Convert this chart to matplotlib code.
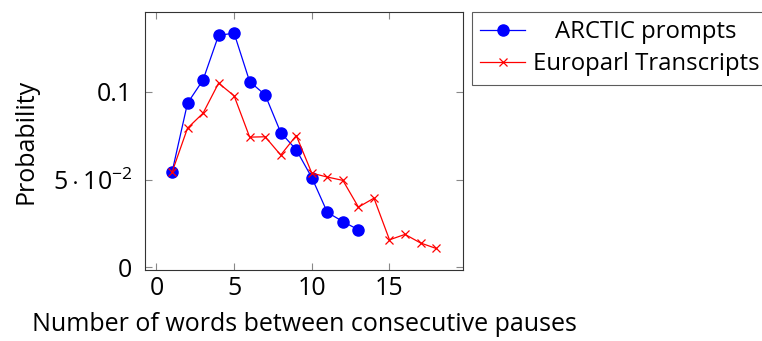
import matplotlib
matplotlib.use('Agg')
import matplotlib.pyplot as plt
from matplotlib.ticker import FixedLocator, FixedFormatter

plt.rcParams['font.family'] = ['Open Sans', 'DejaVu Sans']
plt.rcParams['mathtext.fontset'] = 'custom'
plt.rcParams['mathtext.rm'] = 'Open Sans'
plt.rcParams['mathtext.it'] = 'Open Sans:italic'

# data
arctic_x = [1, 2, 3, 4, 5, 6, 7, 8, 9, 10, 11, 12, 13]
arctic_y = [0.054, 0.0934, 0.1066, 0.132, 0.1332, 0.1057, 0.0981,
            0.0767, 0.0669, 0.0511, 0.0313, 0.0261, 0.0214]
europarl_x = list(range(1, 19))
europarl_y = [0.054, 0.0792, 0.0877, 0.1048, 0.0976, 0.0741, 0.0743, 0.0639,
              0.075, 0.0536, 0.0514, 0.0495, 0.0343, 0.0394, 0.0157, 0.0188,
              0.0139, 0.0108]
xticks = [0, 5, 10, 15]
yticks = [0, 0.05, 0.1]
ytick_labels = ['0', r'$5\cdot10^{-2}$', '0.1']

fig = plt.figure(figsize=(7.62, 3.41), dpi=100)
ax = fig.add_axes([0.19, 0.208, 0.418, 0.756])

ax.plot(arctic_x, arctic_y, color='blue', marker='o', markersize=8,
        linewidth=0.9, label='ARCTIC prompts')
ax.plot(europarl_x, europarl_y, color='red', marker='x', markersize=6,
        markeredgewidth=0.9, linewidth=0.9, label='Europarl Transcripts')

ax.set_xlim(-0.75, 19.75)
ax.set_ylim(-0.0015, 0.1451)
ax.xaxis.set_major_locator(FixedLocator(xticks))
ax.yaxis.set_major_locator(FixedLocator(yticks))
ax.yaxis.set_major_formatter(FixedFormatter(ytick_labels))
ax.tick_params(direction='in', top=True, right=True, length=5, width=0.8,
               color='#888888', labelsize=18)
ax.tick_params(axis='y', pad=9)
ax.tick_params(axis='x', pad=4)
for s in ax.spines.values():
    s.set_color('#333333')
    s.set_linewidth(0.8)

ax.set_xlabel('Number of words between consecutive pauses', fontsize=18, labelpad=8)
ax.set_ylabel('Probability', fontsize=18, labelpad=10)

lfs = 17.2
leg = fig.legend(loc='upper left', bbox_to_anchor=(0.619, 0.966), fontsize=lfs,
                 frameon=True, fancybox=False, edgecolor='#333333',
                 borderpad=0.35, handlelength=1.9, handletextpad=0.3,
                 labelspacing=0.35, borderaxespad=0)
leg.get_frame().set_linewidth(0.8)

# centre the legend entries like pgfplots does
fig.canvas.draw()
r = fig.canvas.get_renderer()
widths = [t.get_window_extent(r).width for t in leg.get_texts()]
wmax = max(widths)
items = leg._legend_handle_box.get_children()[0].get_children()
for item, w in zip(items, widths):
    item.sep = 0.3 * lfs + (wmax - w) / 2 * 72 / fig.dpi

fig.savefig('out.png', dpi=100)
